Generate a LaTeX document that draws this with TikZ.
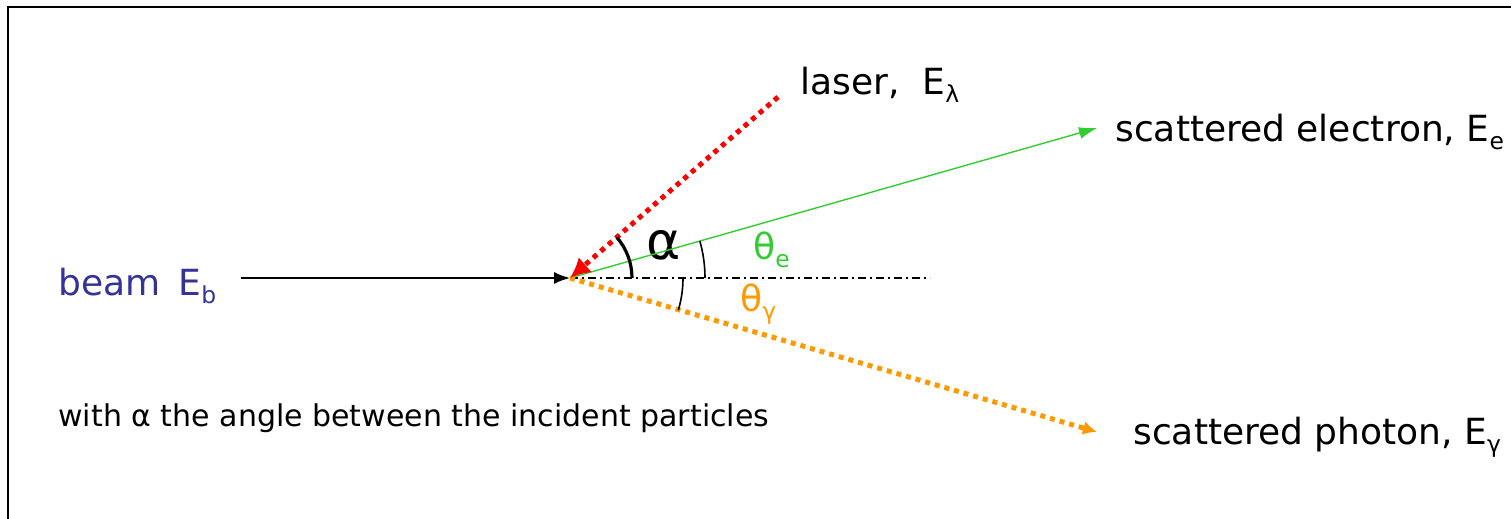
\documentclass[tikz,border=0pt]{standalone}
\usepackage{fontspec}
\setmainfont{DejaVu Sans}
\usetikzlibrary{arrows.meta, positioning}
\usepackage{xcolor}
\definecolor{BeamBlue}{HTML}{333399}
\definecolor{ElecGreen}{HTML}{33CC33}
\definecolor{PhotOrange}{HTML}{FF9900}
\definecolor{LaserRed}{HTML}{FF0000}
\newcommand{\lowidx}[1]{\raisebox{-0.4ex}{\scalebox{0.65}{#1}}}

\begin{document}
\begin{tikzpicture}[x=0.5pt, y=0.5pt]
    \tikzstyle{lbl} = [inner sep=0pt, anchor=base west, font=\fontsize{18}{20}\selectfont]
    \tikzstyle{ray} = [line width=2.5pt, dash pattern=on 2.5pt off 2.5pt]
    \tikzstyle{anglemark} = [line width=0.8pt]

    \useasboundingbox (0,0) rectangle (1511,519);
    \draw [line width=1.2pt] (8,0) -- (8,512) -- (1511,512);

    \coordinate (vtx) at (570,241);
    \coordinate (lsrc) at (778,422);
    \coordinate (etip) at (1097,391);
    \coordinate (ptip) at (1097,87);
    \coordinate (axis) at (930,241);

    \node [lbl, text=BeamBlue] (beam) at (58,223) {beam\hspace{0.5em}E\lowidx{b}};
    \node [lbl] (laser) at (800,424) {laser,\ \ E\lowidx{λ}};
    \node [lbl] (elec) at (1115,377) {scattered electron, E\lowidx{e}};
    \node [lbl] (phot) at (1133,74) {scattered photon, E\lowidx{γ}};
    \node [lbl, font=\fontsize{15}{17}\selectfont] (note) at (58,92) {with α the angle between the incident particles};
    \node [lbl, font=\fontsize{26}{28}\selectfont] (alpha) at (646,259) {α};
    \node [lbl, text=ElecGreen] (thetae) at (753,259) {θ\lowidx{e}};
    \node [lbl, text=PhotOrange] (thetag) at (740,207) {θ\lowidx{γ}};

    \draw [line width=0.8pt, dash pattern=on 4pt off 2pt on 1pt off 2pt] (vtx) -- (axis);
    \draw [-{Latex[length=8pt, width=6pt]}, line width=0.8pt, shorten <=12pt] (beam.east |- vtx) -- (vtx);
    \draw [ElecGreen, -{Latex[length=9pt, width=6pt]}, line width=0.7pt] (vtx) -- (etip);
    \draw [ray, PhotOrange, -{Latex[length=7pt, width=7pt]}] (vtx) -- (ptip);
    \draw [ray, LaserRed, -{Latex[length=10pt, width=10pt]}] (lsrc) -- (vtx);

    \draw [line width=1.6pt] (vtx) ++(0:62) arc[start angle=0, end angle=41, radius=62];
    \draw [anglemark] (vtx) ++(0:135) arc[start angle=0, end angle=15.9, radius=135];
    \draw [anglemark] (vtx) ++(0:113) arc[start angle=0, end angle=-16.5, radius=113];
\end{tikzpicture}
\end{document}
